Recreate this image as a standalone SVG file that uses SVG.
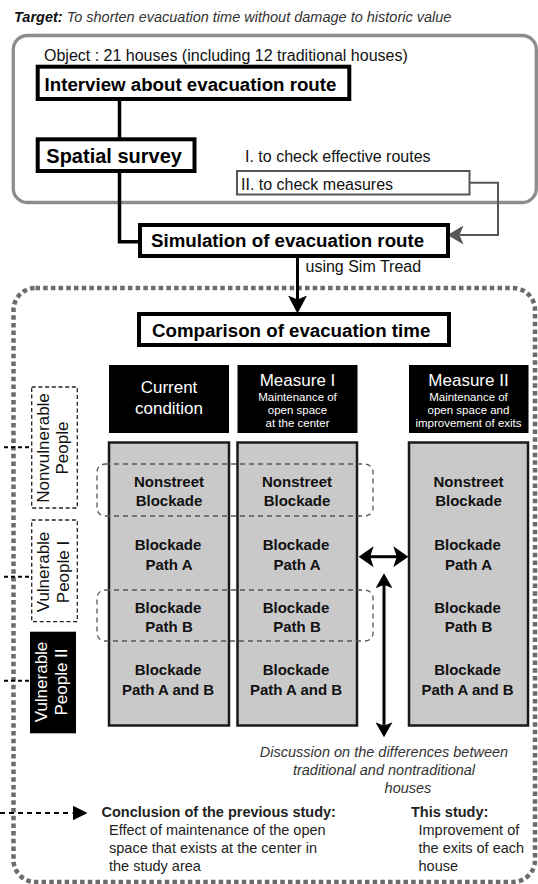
<svg xmlns="http://www.w3.org/2000/svg" width="538" height="884" viewBox="0 0 538 884">
<style>
text{font-family:"Liberation Sans",Arial,sans-serif}
.b{font-weight:bold}
.i{font-style:italic}
.box{fill:#fff;stroke:#000;stroke-width:4}
.bt{font-weight:bold;font-size:18.7px;fill:#000}
.nt{font-size:16px;fill:#111}
.col{fill:#c9c9c9;stroke:#1a1a1a;stroke-width:2.5}
.hdr{fill:#000}
.ht{fill:#fff;text-anchor:middle}
.ct{font-weight:bold;font-size:15px;fill:#111;text-anchor:middle}
.dash{fill:none;stroke:#555;stroke-width:1.3;stroke-dasharray:5 4}
.lab{fill:#fff;stroke:#222;stroke-width:1.3;stroke-dasharray:4 2.7}
.lt{font-size:17px;text-anchor:middle}
.tick{stroke:#000;stroke-width:2;stroke-dasharray:4 3}
.conn{fill:none;stroke:#000;stroke-width:3.5}
.dt{font-style:italic;font-size:14.5px;fill:#333;text-anchor:middle}
.st{font-size:14.5px;fill:#222}
</style>
<defs>
<marker id="ahBig" markerUnits="userSpaceOnUse" markerWidth="18" markerHeight="19" refX="5" refY="9.5" orient="auto">
<path d="M0,0 L18,9.5 L0,19 L4,9.5 Z" fill="#000"/>
</marker>
<marker id="ahV" markerUnits="userSpaceOnUse" markerWidth="15" markerHeight="17" refX="4" refY="8.5" orient="auto-start-reverse">
<path d="M0,0 L15,8.5 L0,17 L3.5,8.5 Z" fill="#000"/>
</marker>
<marker id="ahH" markerUnits="userSpaceOnUse" markerWidth="15" markerHeight="21" refX="4" refY="10.5" orient="auto-start-reverse">
<path d="M0,0 L15,10.5 L0,21 L3.5,10.5 Z" fill="#000"/>
</marker>
<marker id="ahGrey" markerUnits="userSpaceOnUse" markerWidth="16" markerHeight="19" refX="4" refY="9.5" orient="auto">
<path d="M0,0 L16,9.5 L0,19 L4,9.5 Z" fill="#555"/>
</marker>
<marker id="ahTri" markerUnits="userSpaceOnUse" markerWidth="15" markerHeight="15" refX="0" refY="7.5" orient="auto">
<path d="M0,0 L15,7.5 L0,15 Z" fill="#000"/>
</marker>
</defs>

<rect width="538" height="884" fill="#fff"/>

<g id="target">
<text x="14" y="21.5" class="i" font-size="14.5" fill="#333"><tspan class="b" fill="#111">Target:</tspan> To shorten evacuation time without damage to historic value</text>
</g>

<g id="frame-top">
<rect x="13.3" y="35.5" width="523" height="167" rx="14" fill="#fff" stroke="#8c8c8c" stroke-width="3.3"/>
<text x="44" y="61" class="nt">Object : 21 houses (including 12 traditional houses)</text>
</g>

<g id="frame-bottom">
<rect x="13.5" y="288" width="521.5" height="594" rx="22" fill="none" stroke="#6b6b6b" stroke-width="4.5" stroke-dasharray="4.5 3.2"/>
</g>

<g id="connectors">
<path class="conn" d="M119.5,99 V139.3"/>
<path class="conn" d="M119.5,171 V241.7 H140"/>
<path d="M469.5,182.7 H498 V235 H459.5" fill="none" stroke="#555" stroke-width="2" marker-end="url(#ahGrey)"/>
<path d="M297.5,256 V300.5" fill="none" stroke="#000" stroke-width="3" marker-end="url(#ahBig)"/>
<path d="M384,584.3 V726.3" fill="none" stroke="#000" stroke-width="3" marker-start="url(#ahV)" marker-end="url(#ahV)"/>
<path d="M369.6,556.7 H397.3" fill="none" stroke="#000" stroke-width="3" marker-start="url(#ahH)" marker-end="url(#ahH)"/>
<path d="M0,813 H72.5" fill="none" stroke="#000" stroke-width="2" stroke-dasharray="5 4" marker-end="url(#ahTri)"/>
<line class="tick" x1="4" y1="447.3" x2="31" y2="447.3"/>
<line class="tick" x1="4" y1="576.7" x2="31" y2="576.7"/>
<line class="tick" x1="4" y1="680.7" x2="31" y2="680.7"/>
</g>

<g id="interview">
<rect class="box" x="37.7" y="66.7" width="311.6" height="32.3"/>
<text x="44.6" y="90.5" class="bt">Interview about evacuation route</text>
</g>

<g id="spatial">
<rect class="box" x="37.7" y="139.3" width="156.8" height="31.7"/>
<text x="46.3" y="163" class="b" font-size="20" fill="#000">Spatial survey</text>
</g>

<g id="check1">
<text x="245" y="161.5" class="nt">I.  to check effective routes</text>
</g>

<g id="check2">
<rect x="237" y="171" width="232.5" height="23.5" fill="#fff" stroke="#555" stroke-width="2"/>
<text x="241" y="190" class="nt">II. to check measures</text>
</g>

<g id="simulation">
<rect class="box" x="140" y="225" width="308" height="31"/>
<text x="151" y="247" class="bt">Simulation of evacuation route</text>
<text x="305.5" y="271.7" class="nt">using Sim Tread</text>
</g>

<g id="comparison">
<rect class="box" x="139" y="314" width="310" height="31"/>
<text x="152" y="336.5" class="bt">Comparison of evacuation time</text>
</g>

<g id="col-current">
<rect class="hdr" x="109" y="365" width="120" height="68"/>
<text class="ht" x="169" y="392.5" font-size="17">Current</text>
<text class="ht" x="169" y="413.5" font-size="17">condition</text>
<rect class="col" x="109" y="442.5" width="120" height="283"/>
<text class="ct" x="169" y="486.5">Nonstreet</text>
<text class="ct" x="169" y="505.5">Blockade</text>
<text class="ct" x="168" y="550">Blockade</text>
<text class="ct" x="169" y="569.5">Path A</text>
<text class="ct" x="168" y="612.5">Blockade</text>
<text class="ct" x="169" y="631.5">Path B</text>
<text class="ct" x="168" y="675">Blockade</text>
<text class="ct" x="168" y="694.5">Path A and B</text>
</g>

<g id="col-measure1">
<rect class="hdr" x="237.5" y="365" width="120" height="68"/>
<text class="ht" x="297.5" y="386" font-size="17">Measure I</text>
<text class="ht" x="297.5" y="400.5" font-size="11.5">Maintenance of</text>
<text class="ht" x="297.5" y="413.5" font-size="11.5">open space</text>
<text class="ht" x="297.5" y="427" font-size="11.5">at the center</text>
<rect class="col" x="237.5" y="442.5" width="119.5" height="283"/>
<text class="ct" x="297" y="486.5">Nonstreet</text>
<text class="ct" x="297" y="505.5">Blockade</text>
<text class="ct" x="296" y="550">Blockade</text>
<text class="ct" x="297" y="569.5">Path A</text>
<text class="ct" x="296" y="612.5">Blockade</text>
<text class="ct" x="297" y="631.5">Path B</text>
<text class="ct" x="296" y="675">Blockade</text>
<text class="ct" x="296" y="694.5">Path A and B</text>
</g>

<g id="col-measure2">
<rect class="hdr" x="409" y="365" width="119.5" height="68"/>
<text class="ht" x="468.5" y="386" font-size="17">Measure II</text>
<text class="ht" x="468.5" y="400.5" font-size="11.5">Maintenance of</text>
<text class="ht" x="468.5" y="413.5" font-size="11.5">open space and</text>
<text class="ht" x="468.5" y="426.5" font-size="11.5">improvement of exits</text>
<rect class="col" x="409" y="442.5" width="119" height="283"/>
<text class="ct" x="468.5" y="486.5">Nonstreet</text>
<text class="ct" x="468.5" y="505.5">Blockade</text>
<text class="ct" x="467.5" y="550">Blockade</text>
<text class="ct" x="468.5" y="569.5">Path A</text>
<text class="ct" x="467.5" y="612.5">Blockade</text>
<text class="ct" x="468.5" y="631.5">Path B</text>
<text class="ct" x="467.5" y="675">Blockade</text>
<text class="ct" x="467.5" y="694.5">Path A and B</text>
</g>

<g id="group-nonstreet">
<rect class="dash" x="97" y="464" width="276" height="52" rx="8"/>
</g>
<g id="group-pathB">
<rect class="dash" x="97" y="590" width="276" height="51" rx="8"/>
</g>

<g id="label-nonvulnerable">
<rect class="lab" x="31.7" y="387" width="45.6" height="121"/>
<g transform="translate(0,448) rotate(-90)">
<text class="lt" x="0" y="48.5" fill="#111">Nonvulnerable</text>
<text class="lt" x="0" y="68" fill="#111">People</text>
</g>
</g>

<g id="label-vulnerable1">
<rect class="lab" x="31.7" y="520" width="45.6" height="101.7"/>
<g transform="translate(0,572) rotate(-90)">
<text class="lt" x="0" y="49" fill="#111">Vulnerable</text>
<text class="lt" x="0" y="68.5" fill="#111">People I</text>
</g>
</g>

<g id="label-vulnerable2">
<rect x="30" y="631.7" width="46" height="101.6" fill="#000"/>
<g transform="translate(0,682) rotate(-90)">
<text class="lt" x="0" y="47" fill="#fff">Vulnerable</text>
<text class="lt" x="0" y="67" fill="#fff">People II</text>
</g>
</g>

<g id="discussion">
<text class="dt" x="384" y="757">Discussion on the differences between</text>
<text class="dt" x="384" y="775">traditional and nontraditional</text>
<text class="dt" x="408" y="792.5">houses</text>
</g>

<g id="conclusion">
<text x="101.5" y="816.5" class="st b">Conclusion of the previous study:</text>
<text x="109" y="835" class="st">Effect of maintenance of the open</text>
<text x="109" y="853" class="st">space that exists at the center in</text>
<text x="109" y="871" class="st">the study area</text>
</g>

<g id="this-study">
<text x="411" y="816.5" class="st b">This study:</text>
<text x="418.5" y="835" class="st">Improvement of</text>
<text x="418.5" y="853" class="st">the exits of each</text>
<text x="418.5" y="871" class="st">house</text>
</g>
</svg>
